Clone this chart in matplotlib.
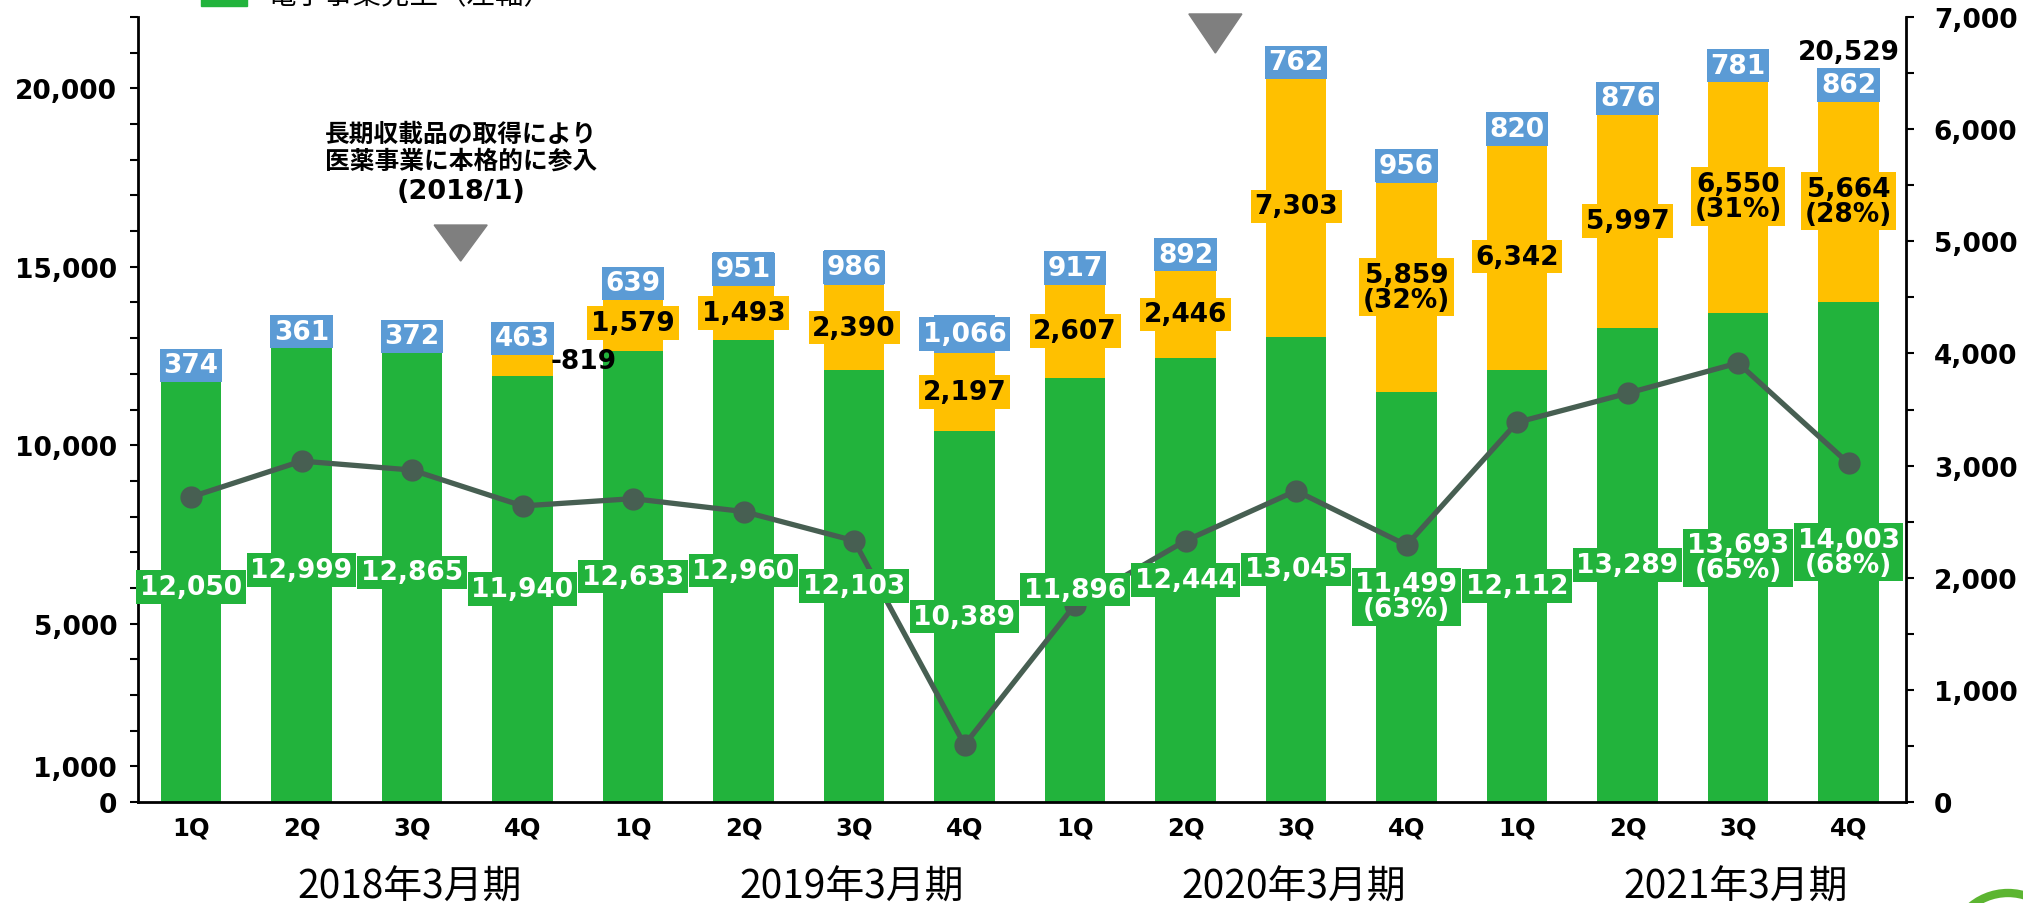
import matplotlib
matplotlib.use('Agg')
import matplotlib.pyplot as plt
from matplotlib.patches import Polygon, Rectangle, Ellipse
from matplotlib.transforms import blended_transform_factory

plt.rcParams['font.family'] = ['DejaVu Sans', 'Noto Sans CJK JP']
JP = ['Noto Sans CJK JP', 'DejaVu Sans']

# 四半期ごとのデータ（百万円）
quarters = ['1Q', '2Q', '3Q', '4Q'] * 4
years = ['2018年3月期', '2019年3月期', '2020年3月期', '2021年3月期']
electronics = [12050, 12999, 12865, 11940, 12633, 12960, 12103, 10389,
               11896, 12444, 13045, 11499, 12112, 13289, 13693, 14003]
medical = [0, 0, 0, 819, 1579, 1493, 2390, 2197,
           2607, 2446, 7303, 5859, 6342, 5997, 6550, 5664]
other = [374, 361, 372, 463, 639, 951, 986, 1066,
         917, 892, 762, 956, 820, 876, 781, 862]
profit = [2720, 3040, 2960, 2640, 2705, 2590, 2330, 510,
          1760, 2330, 2775, 2290, 3385, 3645, 3915, 3020]
share_quarters = [11, 14, 15]   # 構成比を併記する
total_quarters = [15]           # 合計を表示する

GREEN = '#22B33C'
YELLOW = '#FFC000'
BLUE = '#5B9BD5'
LINE = '#475F52'

fig = plt.figure(figsize=(20.24, 9.04), dpi=100)
ax = fig.add_axes([138 / 2024, 101 / 904, 1768 / 2024, 785 / 904])
ax2 = ax.twinx()

x = list(range(len(quarters)))
bottom2 = [e + m for e, m in zip(electronics, medical)]
totals = [b + o for b, o in zip(bottom2, other)]

w = 0.55
ax.bar(x, electronics, width=w, color=GREEN, zorder=2)
ax.bar(x, medical, width=w, bottom=electronics, color=YELLOW, zorder=2)
ax.bar(x, other, width=w, bottom=bottom2, color=BLUE, zorder=2)

ax2.plot(x, profit, color=LINE, lw=3.8, marker='o', markersize=15, zorder=3)

ax.set_xlim(-0.48, 15.52)
ax.set_ylim(0, 22000)
ax2.set_ylim(0, 7000)

# 軸
left_labels = [0, 1000, 5000, 10000, 15000, 20000]
lt = list(range(0, 22001, 1000))
ax.set_yticks(lt, ['{:,}'.format(v) if v in left_labels else '' for v in lt])
rt = list(range(0, 7001, 500))
ax2.set_yticks(rt, ['{:,}'.format(v) if v % 1000 == 0 else '' for v in rt])
ax.set_xticks(x, quarters)
ax.tick_params(axis='x', length=0, pad=10, labelsize=17.5)
ax.tick_params(axis='y', length=6, width=1.5, pad=9, labelsize=19)
ax2.tick_params(axis='y', length=6, width=1.5, pad=14, labelsize=19)
for lab in ax.get_xticklabels() + ax.get_yticklabels() + ax2.get_yticklabels():
    lab.set_fontweight('bold')

for a in (ax, ax2):
    a.spines['top'].set_visible(False)
ax.spines['right'].set_visible(False)
ax2.spines['left'].set_visible(False)
ax2.spines['bottom'].set_visible(False)
for s in ('left', 'bottom'):
    ax.spines[s].set_linewidth(2)
ax2.spines['right'].set_linewidth(2)

yr = blended_transform_factory(ax.transData, ax.transAxes)
for i, y in enumerate(years):
    ax.text(4 * i + 1.98, -0.108, y, transform=yr, ha='center', va='center',
            fontsize=28, family=JP)


def box_label(xx, yy, s, fc, tc):
    ax2.text(xx, yy, s, transform=ax.transData, ha='center', va='center',
             fontsize=19, fontweight='bold', color=tc, linespacing=0.95, zorder=6,
             bbox=dict(boxstyle='square,pad=0.14', fc=fc, ec='none'))


# データラベル
for i in x:
    e, m, o = electronics[i], medical[i], other[i]
    t = totals[i]
    es = '{:,}'.format(e)
    ms = '{:,}'.format(m)
    if i in share_quarters:
        es += '\n({:.0f}%)'.format(e / t * 100)
        ms += '\n({:.0f}%)'.format(m / t * 100)
    box_label(i, e / 2, es, GREEN, 'white')
    if m > 0:
        if m < 1000:
            ax2.text(i + 0.25, e + m / 2, '-' + ms, transform=ax.transData,
                     ha='left', va='center', fontsize=19, fontweight='bold', zorder=6)
        else:
            box_label(i, e + m / 2, ms, YELLOW, 'black')
    box_label(i, bottom2[i] + o / 2, '{:,}'.format(o), BLUE, 'white')
    if i in total_quarters:
        ax2.annotate('{:,}'.format(t), (i, t), xycoords=ax.transData,
                     xytext=(0, 3), textcoords='offset points', ha='center',
                     va='bottom', fontsize=19, fontweight='bold', zorder=6)

# 注記
ax2.text(2.44, 18344, '長期収載品の取得により\n医薬事業に本格的に参入',
         transform=ax.transData, ha='center', va='center', fontsize=17.8,
         fontweight='bold', family=JP, linespacing=1.18, zorder=6)
ax2.text(2.44, 17124, '(2018/1)', transform=ax.transData, ha='center',
         va='center', fontsize=19.5, fontweight='bold', zorder=6)
for cx, top, bot in [(2.44, 16170, 15160), (9.27, 22085, 20990)]:
    ax.add_patch(Polygon([(cx - 0.24, top), (cx + 0.24, top), (cx, bot)],
                         closed=True, color='#7F7F7F', clip_on=False, zorder=4))

# 上端で切れている凡例
fig.patches.append(Rectangle((201 / 2024, 1 - 7 / 904), 46 / 2024, 40 / 904,
                             transform=fig.transFigure, color=GREEN))
fig.text(268 / 2024, 1 - 4.5 / 904, '電子事業売上（左軸）', va='baseline',
         fontsize=20.5, family=JP)

# 右下のロゴ
fig.patches.append(Ellipse((2008 / 2024, 1 - 952 / 904), 116 / 2024, 116 / 904,
                           transform=fig.transFigure, fill=False,
                           ec='#5CB531', lw=6))

fig.savefig('out.png', dpi=100)
